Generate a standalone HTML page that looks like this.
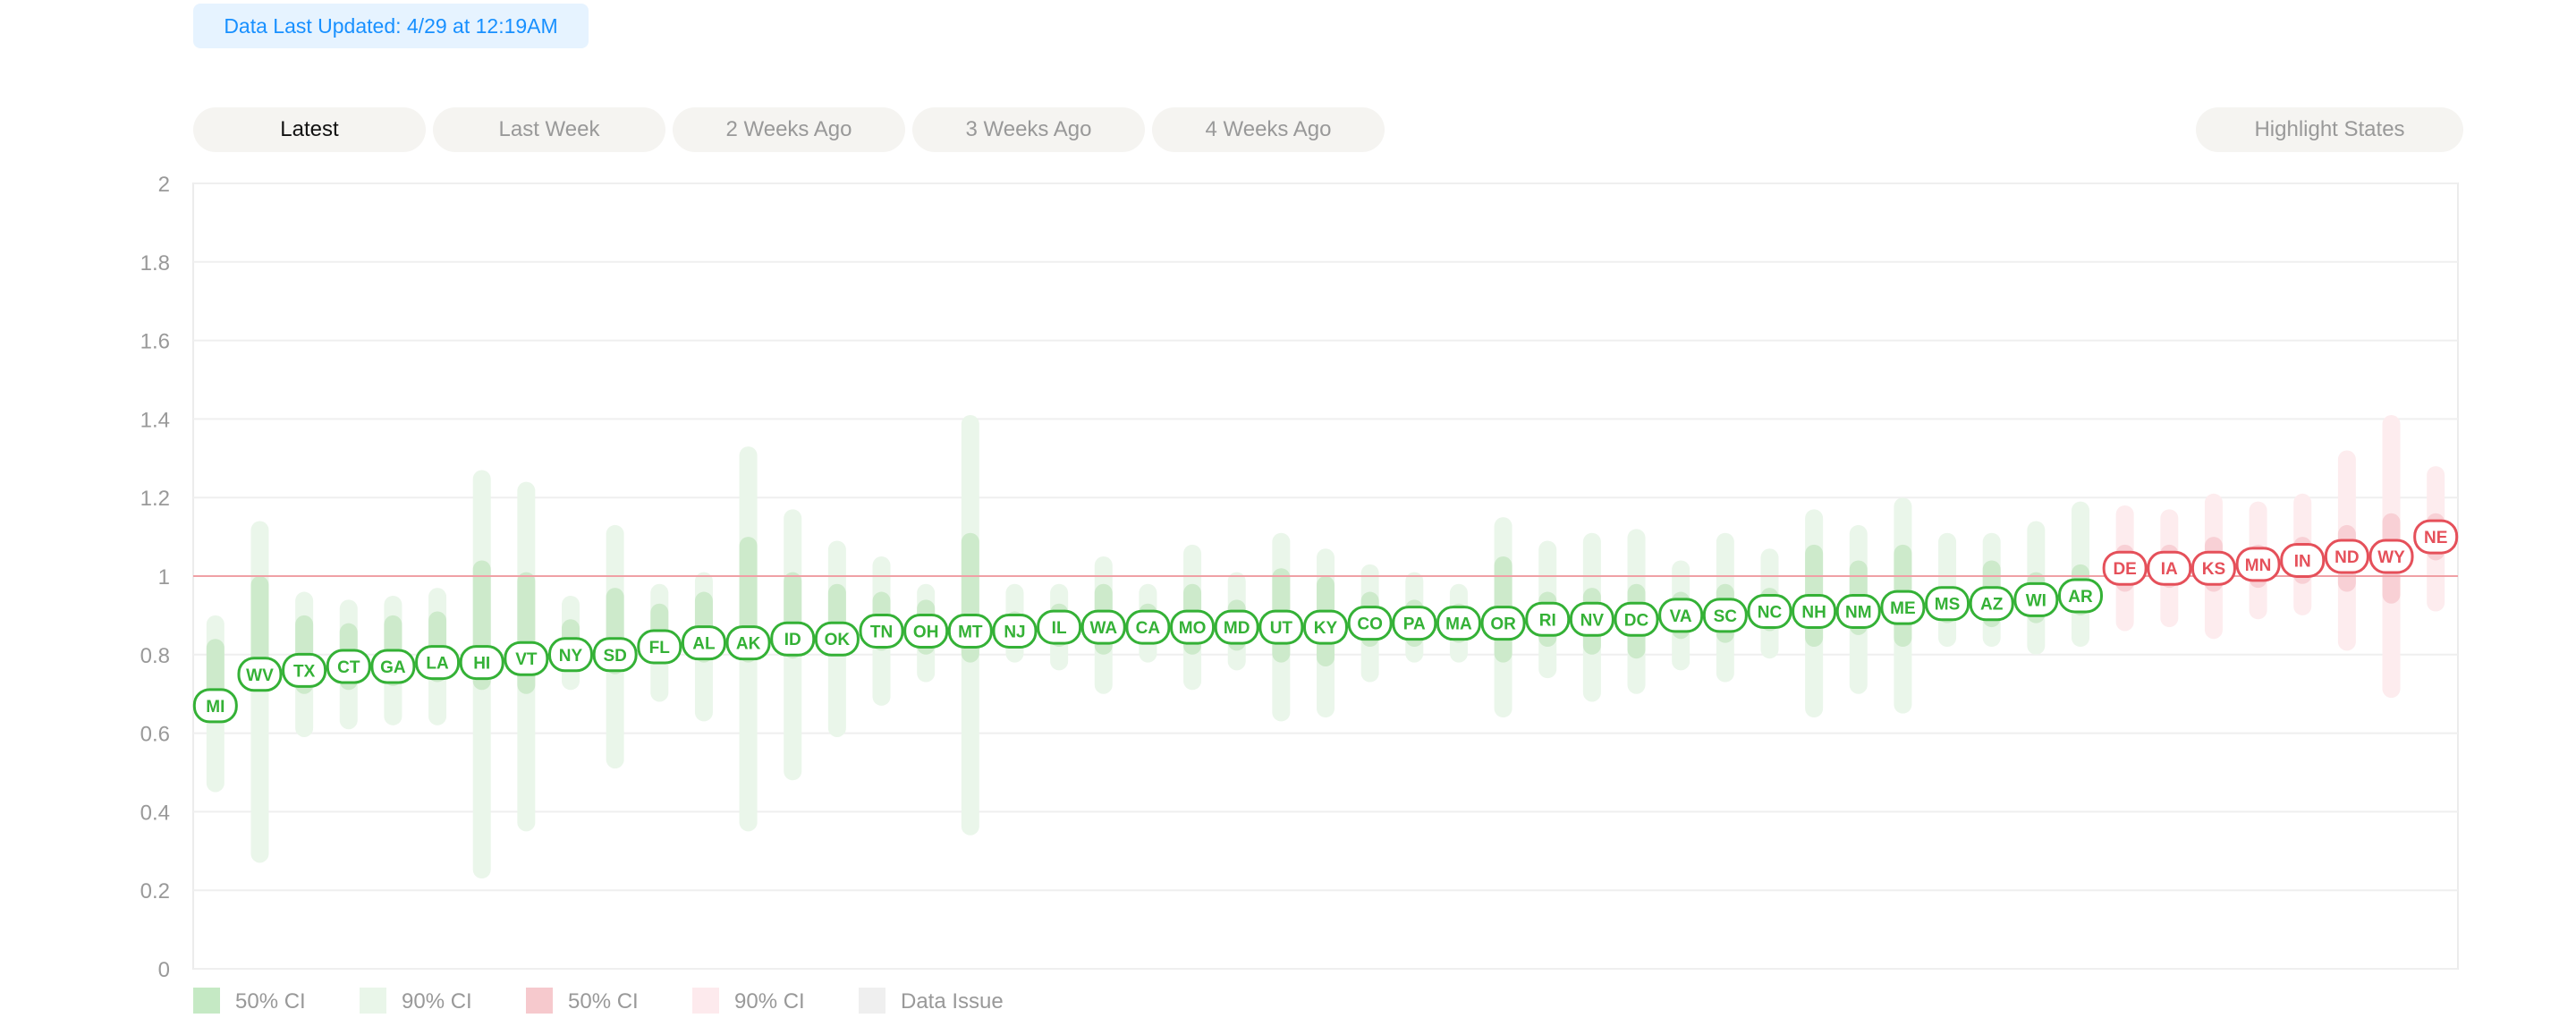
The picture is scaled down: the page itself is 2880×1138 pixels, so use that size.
<!DOCTYPE html>
<html><head><meta charset="utf-8">
<style>
html,body{margin:0;padding:0;background:#fff;width:2880px;height:1138px;overflow:hidden;font-family:"Liberation Sans",sans-serif;}
.badge{position:absolute;left:216px;top:4px;width:442px;height:50px;background:#e6f3ff;border-radius:8px;color:#1890ff;font-size:23px;line-height:50px;text-align:center;}
.btn{position:absolute;top:120px;height:50px;border-radius:25px;background:#f5f4f1;color:#999;font-size:24px;line-height:50px;text-align:center;}
</style></head><body>
<div class="badge">Data Last Updated: 4/29 at 12:19AM</div>
<div class="btn" style="left:216px;width:260px;color:#111">Latest</div>
<div class="btn" style="left:484px;width:260px">Last Week</div>
<div class="btn" style="left:752px;width:260px">2 Weeks Ago</div>
<div class="btn" style="left:1020px;width:260px">3 Weeks Ago</div>
<div class="btn" style="left:1288px;width:260px">4 Weeks Ago</div>
<div class="btn" style="left:2455px;width:299px">Highlight States</div>
<svg id="chart" width="2880" height="1138" style="position:absolute;left:0;top:0"></svg>
<script>
const states=["MI","WV","TX","CT","GA","LA","HI","VT","NY","SD","FL","AL","AK","ID","OK","TN","OH","MT","NJ","IL","WA","CA","MO","MD","UT","KY","CO","PA","MA","OR","RI","NV","DC","VA","SC","NC","NH","NM","ME","MS","AZ","WI","AR","DE","IA","KS","MN","IN","ND","WY","NE"];
const pointVals=[0.67,0.75,0.76,0.77,0.77,0.78,0.78,0.79,0.8,0.8,0.82,0.83,0.83,0.84,0.84,0.86,0.86,0.86,0.86,0.87,0.87,0.87,0.87,0.87,0.87,0.87,0.88,0.88,0.88,0.88,0.89,0.89,0.89,0.9,0.9,0.91,0.91,0.91,0.92,0.93,0.93,0.94,0.95,1.02,1.02,1.02,1.03,1.04,1.05,1.05,1.1];
const lo50=[0.64,0.72,0.7,0.71,0.72,0.73,0.71,0.7,0.76,0.75,0.78,0.78,0.78,0.79,0.8,0.81,0.8,0.78,0.82,0.82,0.8,0.83,0.8,0.81,0.78,0.77,0.82,0.82,0.83,0.78,0.82,0.8,0.79,0.84,0.83,0.86,0.82,0.85,0.82,0.88,0.87,0.88,0.9,0.96,0.97,0.96,0.97,0.98,0.96,0.93,1.04];
const hi50=[0.84,1.0,0.9,0.88,0.9,0.91,1.04,1.01,0.89,0.97,0.93,0.96,1.1,1.01,0.98,0.96,0.94,1.11,0.91,0.93,0.98,0.93,0.98,0.94,1.02,1.0,0.96,0.94,0.93,1.05,0.96,0.97,0.98,0.96,0.98,0.97,1.08,1.04,1.08,0.97,1.04,1.01,1.03,1.08,1.08,1.1,1.08,1.1,1.13,1.16,1.16];
const lo90=[0.45,0.27,0.59,0.61,0.62,0.62,0.23,0.35,0.71,0.51,0.68,0.63,0.35,0.48,0.59,0.67,0.73,0.34,0.78,0.76,0.7,0.78,0.71,0.76,0.63,0.64,0.73,0.78,0.78,0.64,0.74,0.68,0.7,0.76,0.73,0.79,0.64,0.7,0.65,0.82,0.82,0.8,0.82,0.86,0.87,0.84,0.89,0.9,0.81,0.69,0.91];
const hi90=[0.9,1.14,0.96,0.94,0.95,0.97,1.27,1.24,0.95,1.13,0.98,1.01,1.33,1.17,1.09,1.05,0.98,1.41,0.98,0.98,1.05,0.98,1.08,1.01,1.11,1.07,1.03,1.01,0.98,1.15,1.09,1.11,1.12,1.04,1.11,1.07,1.17,1.13,1.2,1.11,1.11,1.14,1.19,1.18,1.17,1.21,1.19,1.21,1.32,1.41,1.28];
const yTicks=[0,0.2,0.4,0.6,0.8,1,1.2,1.4,1.6,1.8,2];
const legendLabels=["50% CI","90% CI","50% CI","90% CI","Data Issue"];

const NS="http://www.w3.org/2000/svg";
const svg=document.getElementById('chart');
const L=216,R=2748,T=205,B=1083;
const y=v=>B-(v/2)*(B-T);
const band=(R-L)/states.length;
const x=i=>L+band*(i+0.5);
function mk(tag,attrs,parent){const e=document.createElementNS(NS,tag);for(const k in attrs)e.setAttribute(k,attrs[k]);(parent||svg).appendChild(e);return e;}

mk('rect',{x:L,y:T,width:R-L,height:B-T,fill:'none',stroke:'#ececec','stroke-width':2});
yTicks.forEach(t=>{
  const g=mk('line',{x1:L,x2:R,y1:y(t),y2:y(t),stroke:'#efefef','stroke-width':2});
  
  
  const tx=mk('text',{x:190,y:y(t)+9,'text-anchor':'end','font-size':24,fill:'#999','font-family':'Liberation Sans, sans-serif'});
  tx.textContent=String(t);
  
  
});
const bw=20;
states.forEach((s,i)=>{
  const red=pointVals[i]>1;
  const b90=mk('rect',{x:x(i)-bw/2,y:y(hi90[i]),width:bw,height:y(lo90[i])-y(hi90[i]),rx:10,fill:red?'#fdecee':'#eaf6ea'});
  
  
  const b50=mk('rect',{x:x(i)-bw/2,y:y(hi50[i]),width:bw,height:y(lo50[i])-y(hi50[i]),rx:10,fill:red?'#f8d0d5':'#cdeacb'});
  
  
});
const ref=mk('line',{x1:L,x2:R,y1:y(1),y2:y(1),stroke:'#f0a0a5','stroke-width':2});


states.forEach((s,i)=>{
  const red=pointVals[i]>1;const c=red?'#e5505a':'#34b136';
  const g=mk('g',{});
  
  
  mk('rect',{x:x(i)-23.5,y:y(pointVals[i])-18,width:47,height:36,rx:17,fill:'#fff',stroke:c,'stroke-width':3},g);
  const t=mk('text',{x:x(i),y:y(pointVals[i])+7,'text-anchor':'middle','font-size':19,'font-weight':'bold',fill:c,'font-family':'Liberation Sans, sans-serif'},g);
  t.textContent=s;
});
const lc=['#c5e9c4','#e9f6e9','#f6c9cd','#fdeaed','#efefef'];
const lx=[216,402,588,774,960];
legendLabels.forEach((lab,i)=>{
  const g=mk('g',{});
  
  
  mk('rect',{x:lx[i],y:1104,width:30,height:29,fill:lc[i]},g);
  const t=mk('text',{x:lx[i]+47,y:1127,'font-size':24,fill:'#999','font-family':'Liberation Sans, sans-serif'},g);
  t.textContent=lab;
});
</script>
</body></html>
